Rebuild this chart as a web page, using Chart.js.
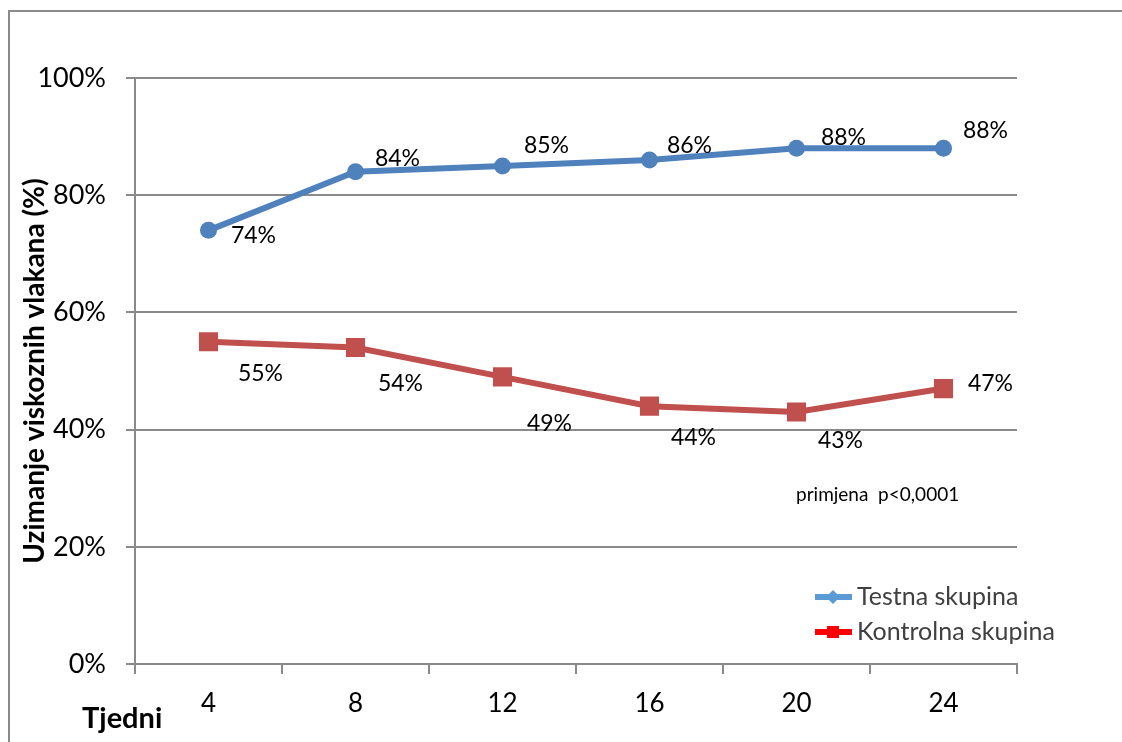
<!DOCTYPE html>
<html>
<head>
<meta charset="utf-8">
<title>Uzimanje viskoznih vlakana</title>
<script src="https://cdn.jsdelivr.net/npm/chart.js@4.4.1/dist/chart.umd.min.js"></script>
<style>
    html, body { margin: 0; padding: 0; background: #fff; }
    #wrap { width: 1122px; height: 742px; }
</style>
</head>
<body>
<div id="wrap"><canvas id="line-chart" width="1122" height="742"></canvas></div>
<script>
// weeks on the x axis
var weeks = ['4', '8', '12', '16', '20', '24'];
// test group values (%)
var test_values = [74, 84, 85, 86, 88, 88];
// control group values (%)
var control_values = [55, 54, 49, 44, 43, 47];
// y axis ticks (%)
var y_ticks = [0, 20, 40, 60, 80, 100];

var series_names = ['Testna skupina', 'Kontrolna skupina'];
var note_text = 'primjena  p<0,0001';
var x_title = 'Tjedni';
var y_title = 'Uzimanje viskoznih vlakana (%)';

var FONT = 'Lato, "Open Sans", sans-serif';

// where each value label sits relative to its point
var labelOffsets = [
    [[45, 5], [42, -13], [44, -20], [40, -14], [47, -11], [42, -18]],
    [[52, 32], [45, 36], [47, 47], [44, 31], [44, 29], [47, -5]]
];

// plugin: frame, value labels, legend and extra texts
var extras = {
    id: 'extras',
    afterDraw: function(chart) {
        var ctx = chart.ctx;
        ctx.save();
        // outer frame (left and top edge are visible)
        ctx.strokeStyle = '#8a8a8a';
        ctx.lineWidth = 2;
        ctx.beginPath();
        ctx.moveTo(9, 760);
        ctx.lineTo(9, 11);
        ctx.lineTo(1130, 11);
        ctx.stroke();

        // value labels
        ctx.fillStyle = '#000';
        ctx.font = '23px ' + FONT;
        ctx.textAlign = 'center';
        ctx.textBaseline = 'middle';
        chart.data.datasets.forEach(function(ds, d) {
            var meta = chart.getDatasetMeta(d);
            meta.data.forEach(function(pt, i) {
                var off = labelOffsets[d][i];
                ctx.fillText(ds.data[i] + '%', pt.x + off[0], pt.y + off[1]);
            });
        });

        // note
        ctx.font = '19px ' + FONT;
        ctx.textAlign = 'left';
        ctx.fillText(note_text, 796, 495);

        // x axis title
        ctx.font = 'bold 29px ' + FONT;
        ctx.fillText(x_title, 82, 719);

        // legend
        var legendColors = ['#5b9bd5', '#ff0000'];
        var legendY = [597, 632];
        ctx.font = '25px ' + FONT;
        for (var k = 0; k < series_names.length; k++) {
            var y = legendY[k];
            ctx.strokeStyle = legendColors[k];
            ctx.fillStyle = legendColors[k];
            ctx.lineWidth = 6;
            ctx.beginPath();
            ctx.moveTo(815, y);
            ctx.lineTo(852, y);
            ctx.stroke();
            if (k === 0) {
                ctx.beginPath();
                ctx.moveTo(833, y - 7);
                ctx.lineTo(840, y);
                ctx.lineTo(833, y + 7);
                ctx.lineTo(826, y);
                ctx.closePath();
                ctx.fill();
            } else {
                ctx.fillRect(827, y - 6, 12, 12);
            }
            ctx.fillStyle = '#404040';
            ctx.fillText(series_names[k], 857, y);
        }
        ctx.restore();
    }
};

var ctx = document.getElementById('line-chart').getContext('2d');
var myLineChart = new Chart(ctx, {
    type: 'line',
    data: {
        labels: weeks,
        datasets: [{
            label: series_names[0],
            data: test_values,
            borderColor: '#4f81bd',
            backgroundColor: '#4f81bd',
            borderWidth: 6,
            pointStyle: 'circle',
            pointRadius: 8.5,
            pointBorderWidth: 0,
            tension: 0
        }, {
            label: series_names[1],
            data: control_values,
            borderColor: '#c0504d',
            backgroundColor: '#c0504d',
            borderWidth: 6,
            pointStyle: 'rect',
            pointRadius: 13.5,
            pointBorderWidth: 0,
            tension: 0
        }]
    },
    options: {
        responsive: false,
        animation: false,
        layout: { padding: { top: 78, right: 105, left: 0, bottom: 0 } },
        plugins: {
            legend: { display: false },
            tooltip: { enabled: false }
        },
        scales: {
            x: {
                offset: true,
                grid: {
                    offset: true,
                    drawOnChartArea: false,
                    drawTicks: true,
                    tickLength: 10,
                    color: '#8a8a8a',
                    lineWidth: 2
                },
                border: { color: '#8a8a8a', width: 2 },
                ticks: {
                    color: '#000',
                    font: { family: FONT, size: 26 },
                    padding: 14,
                    maxRotation: 0
                },
                afterFit: function(scale) { scale.height = 78; }
            },
            y: {
                min: 0,
                max: 100,
                afterBuildTicks: function(scale) {
                    scale.ticks = y_ticks.map(function(v) { return { value: v }; });
                },
                grid: {
                    color: '#8a8a8a',
                    lineWidth: 2,
                    tickLength: 9
                },
                border: { color: '#8a8a8a', width: 2 },
                ticks: {
                    color: '#000',
                    font: { family: FONT, size: 27 },
                    padding: 20,
                    callback: function(v) { return v + '%'; }
                },
                title: {
                    display: true,
                    text: y_title,
                    color: '#000',
                    font: { family: FONT, size: 28, weight: 'bold' },
                    padding: { top: 18, bottom: 0 }
                },
                afterFit: function(scale) { scale.width = 135; }
            }
        }
    },
    plugins: [extras]
});
</script>
</body>
</html>
